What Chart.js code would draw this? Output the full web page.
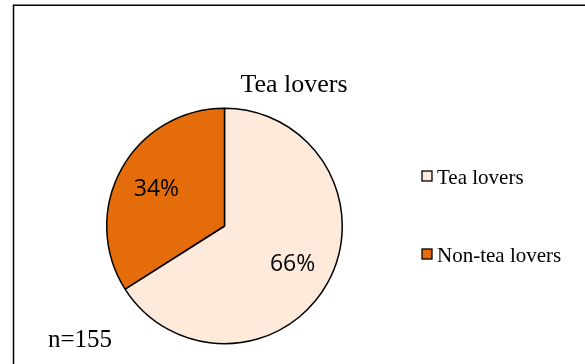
<!DOCTYPE html>
<html>
<head>
<meta charset="utf-8">
<script src="https://cdn.jsdelivr.net/npm/chart.js@4"></script>
<style>
  html, body { margin: 0; padding: 0; background: #ffffff; }
  #wrap { position: relative; width: 585px; height: 364px; overflow: hidden; }
</style>
</head>
<body>
<div id="wrap">
  <canvas id="teaChart" width="585" height="364"></canvas>
</div>
<script>
// Chart data
const chartTitle = "Tea lovers";
const categories = ["Tea lovers", "Non-tea lovers"];
const shares = [66, 34];
const sliceColors = ["#FDEADA", "#E46C0A"];
const sampleNote = "n=155";

// Draws the title, legend, labels and frame on top of the pie
const overlayPlugin = {
    id: 'overlay',
    afterDraw(chart) {
        let ctx = chart.ctx;
        ctx.save();

        // Frame around the figure (only top and left edges are visible)
        ctx.strokeStyle = '#000000';
        ctx.lineWidth = 1.5;
        ctx.beginPath();
        ctx.moveTo(13.5, 400);
        ctx.lineTo(13.5, 5.2);
        ctx.lineTo(600, 5.2);
        ctx.stroke();

        // Title
        ctx.fillStyle = '#000000';
        ctx.font = '26px "Liberation Serif", "Times New Roman", serif';
        ctx.textAlign = 'center';
        ctx.textBaseline = 'alphabetic';
        ctx.fillText(chartTitle, 294, 92);

        // Percent labels inside the slices
        let meta = chart.getDatasetMeta(0);
        let total = shares.reduce((a, b) => a + b, 0);
        ctx.font = '23px "Open Sans", sans-serif';
        ctx.textBaseline = 'middle';
        for (let i = 0; i < meta.data.length; i++) {
            let arc = meta.data[i];
            let mid = (arc.startAngle + arc.endAngle) / 2;
            let r = arc.outerRadius * 0.66;
            let x = arc.x + Math.cos(mid) * r;
            let y = arc.y + Math.sin(mid) * r;
            ctx.fillText(Math.round(shares[i] / total * 100) + '%', x, y + 1);
        }

        // Legend
        ctx.font = '21px "Liberation Serif", "Times New Roman", serif';
        ctx.textAlign = 'left';
        ctx.textBaseline = 'alphabetic';
        for (let i = 0; i < categories.length; i++) {
            let top = 171 + i * 78;
            ctx.fillStyle = sliceColors[i];
            ctx.fillRect(422, top, 10, 10);
            ctx.strokeStyle = '#000000';
            ctx.lineWidth = 1.3;
            ctx.strokeRect(422, top, 10, 10);
            ctx.fillStyle = '#000000';
            ctx.fillText(categories[i], 437, top + 13);
        }

        // Sample size note
        ctx.font = '25px "Liberation Serif", "Times New Roman", serif';
        ctx.fillText(sampleNote, 48, 347);

        ctx.restore();
    }
};

let ctx = document.getElementById('teaChart').getContext('2d');

let teaChart = new Chart(ctx, {
    type: 'pie',
    data: {
        labels: categories,
        datasets: [{
            data: shares,
            backgroundColor: sliceColors,
            borderColor: '#000000',
            borderWidth: 1.5
        }]
    },
    options: {
        responsive: false,
        animation: false,
        devicePixelRatio: 1,
        layout: {
            padding: { left: 106, right: 242, top: 107, bottom: 19 }
        },
        plugins: {
            legend: { display: false },
            title: { display: false },
            tooltip: { enabled: false }
        }
    },
    plugins: [overlayPlugin]
});
</script>
</body>
</html>
